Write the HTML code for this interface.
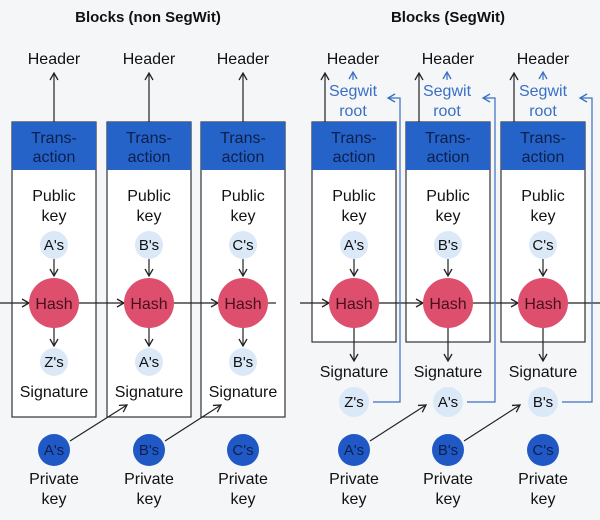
<!DOCTYPE html>
<html><head><meta charset="utf-8"><style>
html,body{margin:0;padding:0;background:#f5f6f8;}
svg{display:block;font-family:"Liberation Sans",sans-serif;}
</style></head><body>
<svg width="600" height="520" viewBox="0 0 600 520" xmlns="http://www.w3.org/2000/svg">
<defs>
<marker id="a" markerWidth="10" markerHeight="10" refX="8" refY="5" orient="auto" markerUnits="userSpaceOnUse"><path d="M1,1 L8,5 L1,9" fill="none" stroke="#222" stroke-width="1.3"/></marker>
<marker id="b" markerWidth="10" markerHeight="10" refX="8" refY="5" orient="auto" markerUnits="userSpaceOnUse"><path d="M1,1 L8,5 L1,9" fill="none" stroke="#3a6fc4" stroke-width="1.3"/></marker>
</defs>
<rect width="600" height="520" fill="#f5f6f8"/>
<g font-weight="bold" font-size="15" fill="#111" text-anchor="middle">
<text x="148" y="22">Blocks (non SegWit)</text>
<text x="448" y="22">Blocks (SegWit)</text>
</g>
<g font-size="16" text-anchor="middle">
<g>
<rect x="12" y="122" width="84" height="295" fill="#fff" stroke="#333" stroke-width="1.2"/>
<rect x="107" y="122" width="84" height="295" fill="#fff" stroke="#333" stroke-width="1.2"/>
<rect x="201" y="122" width="84" height="295" fill="#fff" stroke="#333" stroke-width="1.2"/>
<rect x="12" y="122" width="84" height="48" fill="#2563c9"/>
<rect x="107" y="122" width="84" height="48" fill="#2563c9"/>
<rect x="201" y="122" width="84" height="48" fill="#2563c9"/>
</g>
<g>
<rect x="312" y="122" width="84" height="220" fill="#fff" stroke="#333" stroke-width="1.2"/>
<rect x="406" y="122" width="84" height="220" fill="#fff" stroke="#333" stroke-width="1.2"/>
<rect x="501" y="122" width="84" height="220" fill="#fff" stroke="#333" stroke-width="1.2"/>
<rect x="312" y="122" width="84" height="48" fill="#2563c9"/>
<rect x="406" y="122" width="84" height="48" fill="#2563c9"/>
<rect x="501" y="122" width="84" height="48" fill="#2563c9"/>
</g>
<g stroke="#222" stroke-width="1.2" fill="none">
<line x1="54" y1="122" x2="54" y2="73" marker-end="url(#a)"/>
<line x1="149" y1="122" x2="149" y2="73" marker-end="url(#a)"/>
<line x1="243" y1="122" x2="243" y2="73" marker-end="url(#a)"/>
<line x1="325" y1="122" x2="325" y2="73" marker-end="url(#a)"/>
<line x1="419" y1="122" x2="419" y2="73" marker-end="url(#a)"/>
<line x1="514" y1="122" x2="514" y2="73" marker-end="url(#a)"/>
<line x1="54" y1="259" x2="54" y2="276" marker-end="url(#a)"/>
<line x1="149" y1="259" x2="149" y2="276" marker-end="url(#a)"/>
<line x1="243" y1="259" x2="243" y2="276" marker-end="url(#a)"/>
<line x1="354" y1="259" x2="354" y2="276" marker-end="url(#a)"/>
<line x1="448" y1="259" x2="448" y2="276" marker-end="url(#a)"/>
<line x1="543" y1="259" x2="543" y2="276" marker-end="url(#a)"/>
<line x1="54" y1="328" x2="54" y2="346" marker-end="url(#a)"/>
<line x1="149" y1="328" x2="149" y2="346" marker-end="url(#a)"/>
<line x1="243" y1="328" x2="243" y2="346" marker-end="url(#a)"/>
<line x1="354" y1="328" x2="354" y2="361" marker-end="url(#a)"/>
<line x1="448" y1="328" x2="448" y2="361" marker-end="url(#a)"/>
<line x1="543" y1="328" x2="543" y2="361" marker-end="url(#a)"/>
<line x1="0" y1="303" x2="29" y2="303" marker-end="url(#a)"/>
<line x1="79" y1="303" x2="124" y2="303" marker-end="url(#a)"/>
<line x1="174" y1="303" x2="218" y2="303" marker-end="url(#a)"/>
<line x1="268" y1="303" x2="276" y2="303"/>
<line x1="300" y1="303" x2="329" y2="303" marker-end="url(#a)"/>
<line x1="379" y1="303" x2="423" y2="303" marker-end="url(#a)"/>
<line x1="473" y1="303" x2="518" y2="303" marker-end="url(#a)"/>
<line x1="568" y1="303" x2="600" y2="303"/>
<line x1="70" y1="441" x2="127" y2="405" marker-end="url(#a)"/>
<line x1="165" y1="441" x2="221" y2="405" marker-end="url(#a)"/>
<line x1="370" y1="441" x2="426" y2="405" marker-end="url(#a)"/>
<line x1="464" y1="441" x2="520" y2="405" marker-end="url(#a)"/>
</g>
<g stroke="#3a6fc4" stroke-width="1.2" fill="none">
<polyline points="373,402 400,402 400,98 388,98" marker-end="url(#b)"/>
<polyline points="467,402 495,402 495,98 483,98" marker-end="url(#b)"/>
<polyline points="562,402 592,402 592,98 580,98" marker-end="url(#b)"/>
<line x1="353" y1="80" x2="353" y2="72" marker-end="url(#b)"/>
<line x1="447" y1="80" x2="447" y2="72" marker-end="url(#b)"/>
<line x1="543" y1="80" x2="543" y2="72" marker-end="url(#b)"/>
</g>
<g fill="#dbe8f7">
<circle cx="54" cy="245" r="14"/><circle cx="149" cy="245" r="14"/><circle cx="243" cy="245" r="14"/>
<circle cx="354" cy="245" r="14"/><circle cx="448" cy="245" r="14"/><circle cx="543" cy="245" r="14"/>
<circle cx="54" cy="362" r="14"/><circle cx="149" cy="362" r="14"/><circle cx="243" cy="362" r="14"/>
<circle cx="354" cy="402" r="15"/><circle cx="448" cy="402" r="15"/><circle cx="543" cy="402" r="15"/>
</g>
<g fill="#de4f6e">
<circle cx="54" cy="303" r="25"/><circle cx="149" cy="303" r="25"/><circle cx="243" cy="303" r="25"/>
<circle cx="354" cy="303" r="25"/><circle cx="448" cy="303" r="25"/><circle cx="543" cy="303" r="25"/>
</g>
<g fill="#2059c6">
<circle cx="54" cy="450" r="16"/><circle cx="149" cy="450" r="16"/><circle cx="243" cy="450" r="16"/>
<circle cx="354" cy="450" r="16"/><circle cx="448" cy="450" r="16"/><circle cx="543" cy="450" r="16"/>
</g>
<g fill="#111">
<text x="54" y="64">Header</text><text x="149" y="64">Header</text><text x="243" y="64">Header</text>
<text x="353" y="64">Header</text><text x="448" y="64">Header</text><text x="543" y="64">Header</text>
<g fill="#0d1f4a">
<text x="54" y="143">Trans-</text><text x="54" y="162">action</text>
<text x="149" y="143">Trans-</text><text x="149" y="162">action</text>
<text x="243" y="143">Trans-</text><text x="243" y="162">action</text>
<text x="354" y="143">Trans-</text><text x="354" y="162">action</text>
<text x="448" y="143">Trans-</text><text x="448" y="162">action</text>
<text x="543" y="143">Trans-</text><text x="543" y="162">action</text>
</g>
<text x="54" y="201">Public</text><text x="54" y="221">key</text>
<text x="149" y="201">Public</text><text x="149" y="221">key</text>
<text x="243" y="201">Public</text><text x="243" y="221">key</text>
<text x="354" y="201">Public</text><text x="354" y="221">key</text>
<text x="448" y="201">Public</text><text x="448" y="221">key</text>
<text x="543" y="201">Public</text><text x="543" y="221">key</text>
<g font-size="15"><text x="54" y="250">A's</text><text x="149" y="250">B's</text><text x="243" y="250">C's</text>
<text x="354" y="250">A's</text><text x="448" y="250">B's</text><text x="543" y="250">C's</text>
<text x="54" y="367">Z's</text><text x="149" y="367">A's</text><text x="243" y="367">B's</text>
<text x="354" y="407">Z's</text><text x="448" y="407">A's</text><text x="543" y="407">B's</text></g>
<g fill="#4a0f1e"><text x="54" y="309">Hash</text><text x="149" y="309">Hash</text><text x="243" y="309">Hash</text>
<text x="354" y="309">Hash</text><text x="448" y="309">Hash</text><text x="543" y="309">Hash</text></g>
<text x="54" y="397">Signature</text><text x="149" y="397">Signature</text><text x="243" y="397">Signature</text>
<text x="354" y="377">Signature</text><text x="448" y="377">Signature</text><text x="543" y="377">Signature</text>
<g fill="#0d1f4a" font-size="15"><text x="54" y="455">A's</text><text x="149" y="455">B's</text><text x="243" y="455">C's</text>
<text x="354" y="455">A's</text><text x="448" y="455">B's</text><text x="543" y="455">C's</text></g>
<text x="54" y="484">Private</text><text x="54" y="504">key</text>
<text x="149" y="484">Private</text><text x="149" y="504">key</text>
<text x="243" y="484">Private</text><text x="243" y="504">key</text>
<text x="354" y="484">Private</text><text x="354" y="504">key</text>
<text x="448" y="484">Private</text><text x="448" y="504">key</text>
<text x="543" y="484">Private</text><text x="543" y="504">key</text>
<g fill="#3a6fc4"><text x="353" y="96">Segwit</text><text x="353" y="116">root</text>
<text x="447" y="96">Segwit</text><text x="447" y="116">root</text>
<text x="543" y="96">Segwit</text><text x="543" y="116">root</text></g>
</g>
</g>
</svg>
</body></html>
